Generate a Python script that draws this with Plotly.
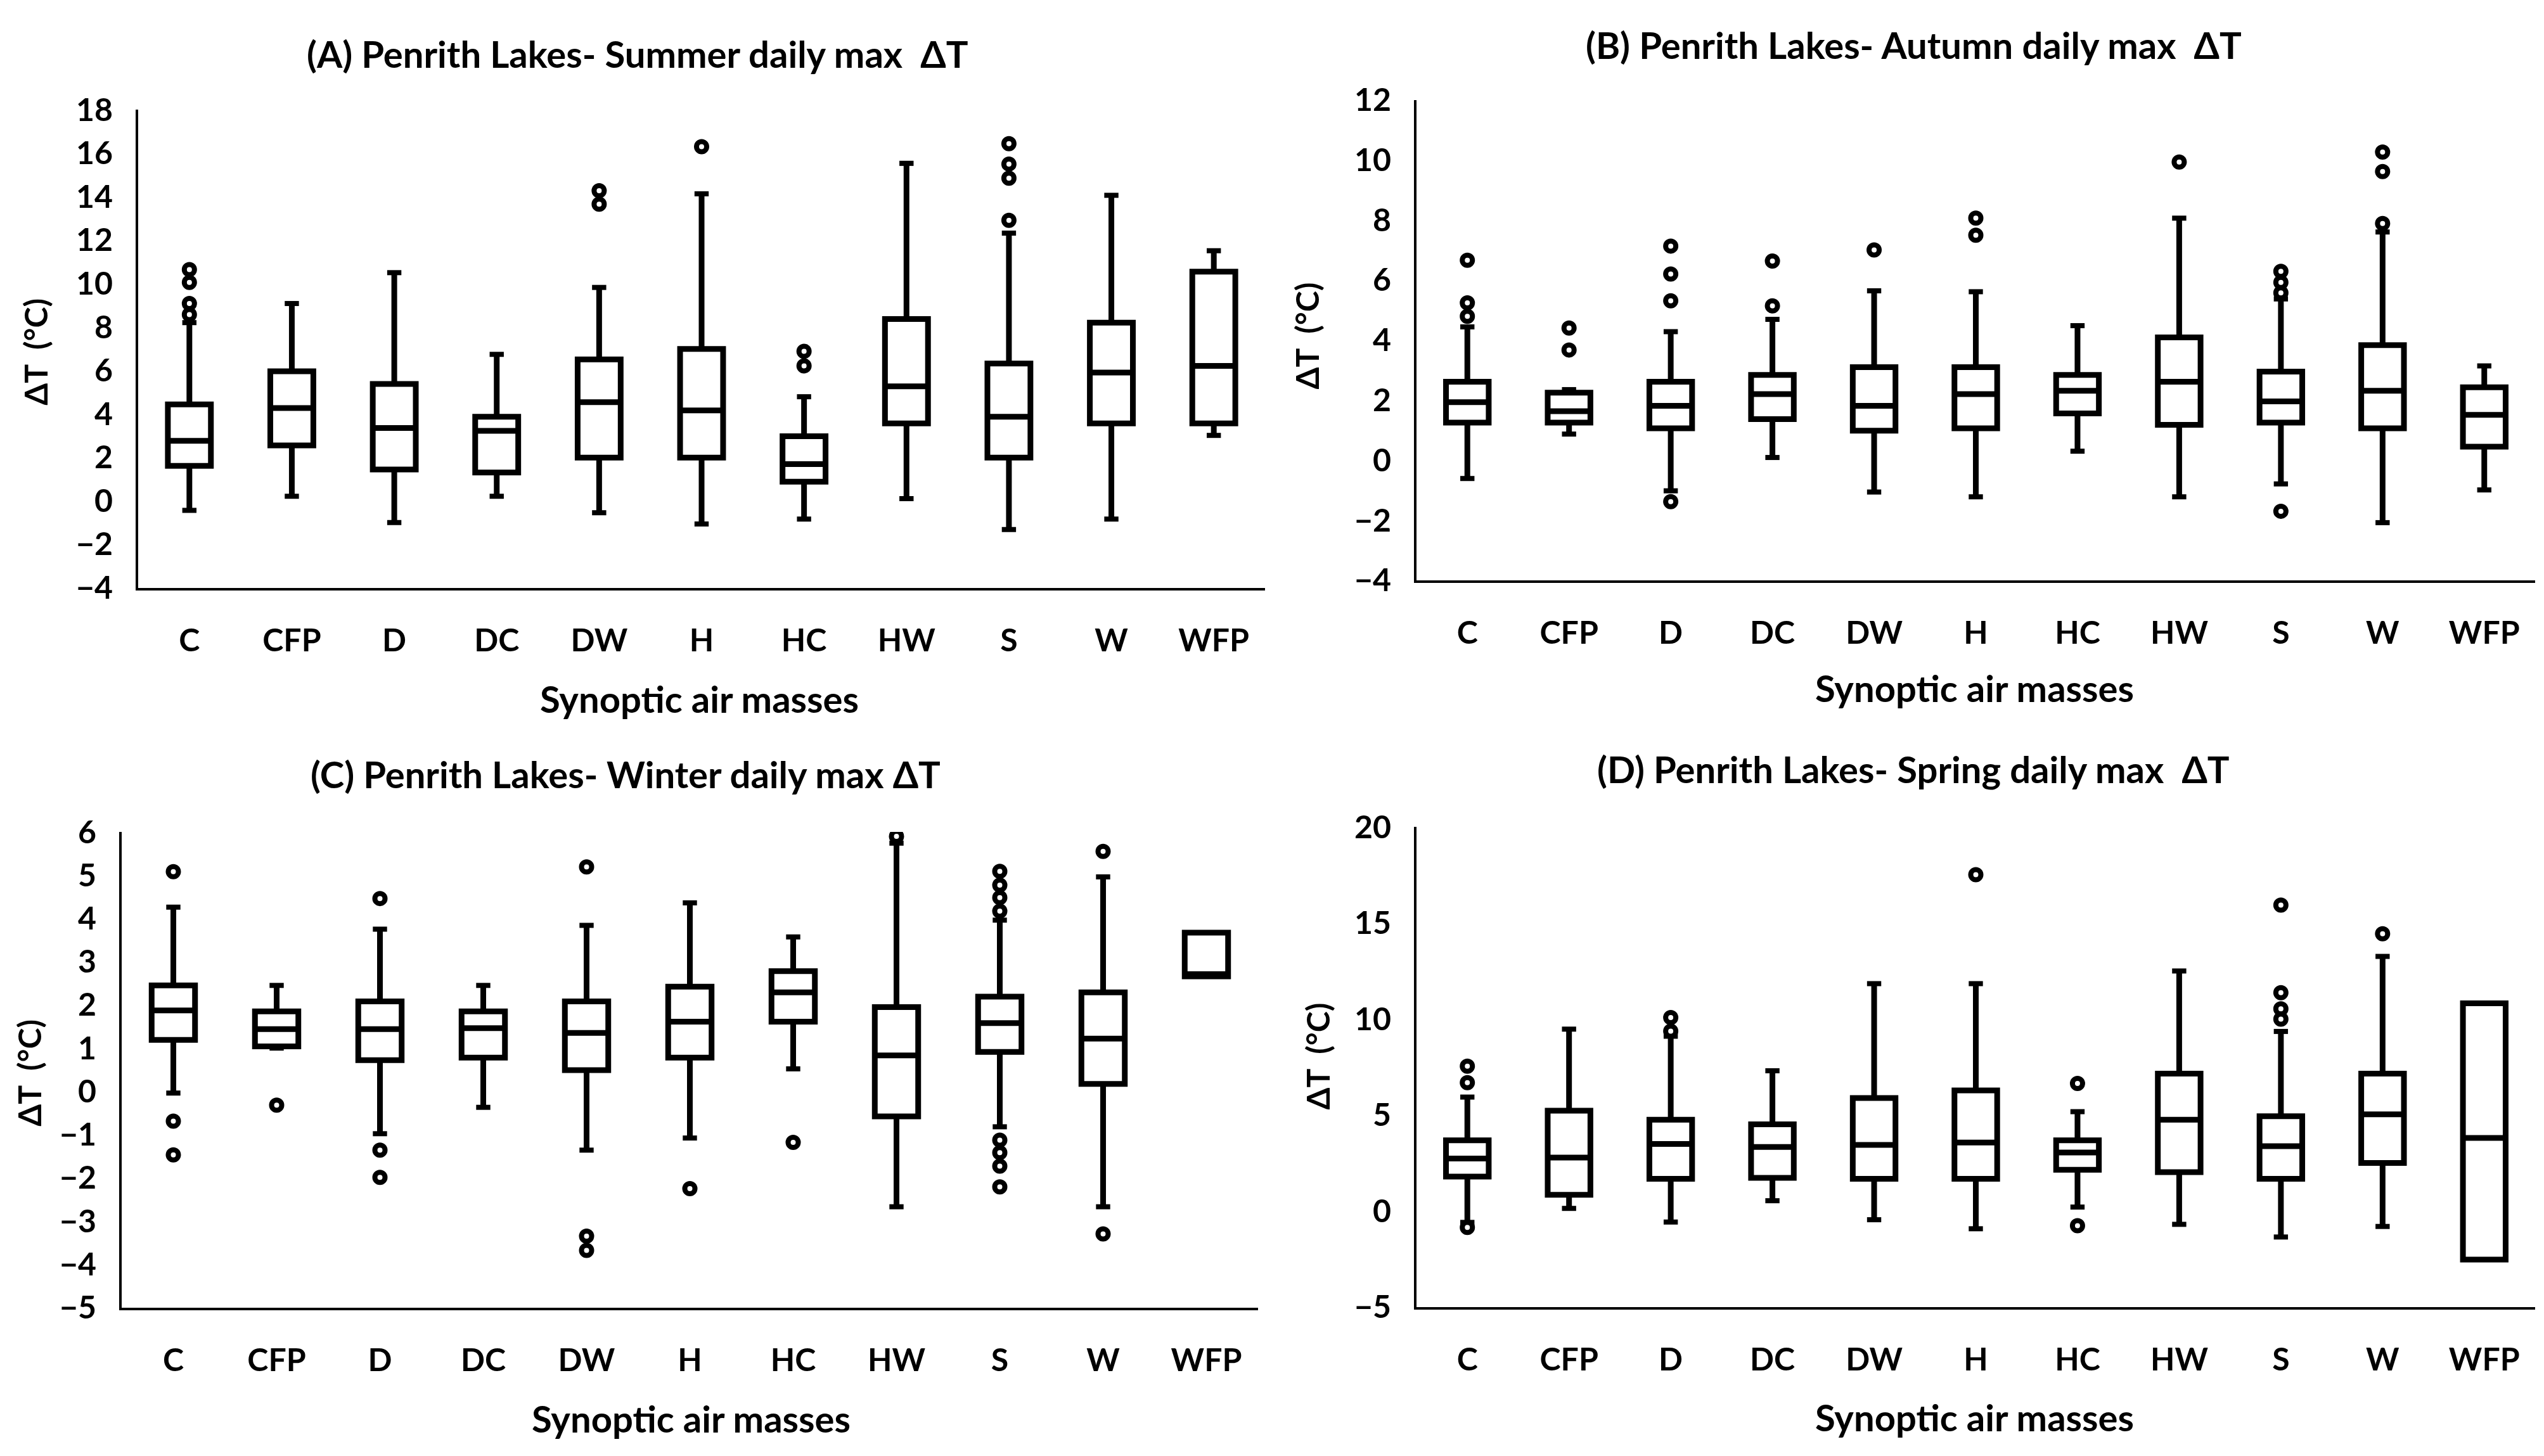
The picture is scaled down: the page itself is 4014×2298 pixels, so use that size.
import plotly.graph_objects as go

cats = ["C", "CFP", "D", "DC", "DW", "H", "HC", "HW", "S", "W", "WFP"]

# (A) Summer
a_lo  = [-0.44, 0.21, -1.00, 0.21, -0.55, -1.07, -0.84, 0.10, -1.32, -0.84, 3.01]
a_q1  = [1.61, 2.55, 1.44, 1.30, 1.99, 1.99, 0.88, 3.56, 1.99, 3.56, 3.56]
a_med = [2.76, 4.27, 3.35, 3.22, 4.54, 4.16, 1.69, 5.27, 3.87, 5.90, 6.21]
a_q3  = [4.44, 5.96, 5.38, 3.87, 6.51, 6.99, 2.97, 8.37, 6.32, 8.20, 10.55]
a_hi  = [8.20, 9.08, 10.50, 6.74, 9.82, 14.13, 4.79, 15.53, 12.32, 14.06, 11.51]
a_out_cat = ["C", "C", "C", "C", "DW", "DW", "H", "HC", "HC", "S", "S", "S", "S"]
a_out_val = [10.64, 10.05, 9.08, 8.57, 14.27, 13.65, 16.30, 6.88, 6.21, 16.44, 15.50, 14.85, 12.91]

# (B) Autumn
b_lo  = [-0.61, 0.87, -1.02, 0.09, -1.06, -1.22, 0.30, -1.22, -0.79, -2.08, -0.99]
b_q1  = [1.25, 1.25, 1.06, 1.37, 0.98, 1.06, 1.56, 1.18, 1.25, 1.06, 0.45]
b_med = [1.93, 1.63, 1.81, 2.20, 1.81, 2.20, 2.31, 2.61, 1.96, 2.31, 1.51]
b_q3  = [2.61, 2.25, 2.61, 2.84, 3.10, 3.10, 2.84, 4.09, 2.95, 3.83, 2.43]
b_hi  = [4.44, 2.35, 4.28, 4.69, 5.64, 5.61, 4.48, 8.06, 5.37, 7.60, 3.14]
b_out_cat = ["C", "C", "C", "CFP", "CFP", "D", "D", "D", "D", "DC", "DC", "DW",
             "H", "H", "HW", "S", "S", "S", "S", "W", "W", "W"]
b_out_val = [6.66, 5.24, 4.79, 4.40, 3.67, 7.13, 6.20, 5.31, -1.38, 6.63, 5.14, 7.00,
             8.06, 7.49, 9.93, 6.29, 5.92, 5.57, -1.70, 10.26, 9.61, 7.88]

# (C) Winter
c_lo  = [-0.04, 1.00, -0.98, -0.37, -1.36, -1.08, 0.52, -2.67, -0.82, -2.67, 2.66]
c_q1  = [1.19, 1.04, 0.72, 0.78, 0.49, 0.78, 1.61, -0.58, 0.91, 0.17, 2.66]
c_med = [1.87, 1.44, 1.44, 1.46, 1.35, 1.61, 2.29, 0.83, 1.58, 1.22, 2.71]
c_q3  = [2.45, 1.85, 2.08, 1.85, 2.08, 2.42, 2.78, 1.95, 2.19, 2.29, 3.67]
c_hi  = [4.26, 2.45, 3.75, 2.45, 3.84, 4.36, 3.57, 5.74, 3.96, 4.96, 3.67]
c_out_cat = ["C", "C", "C", "CFP", "D", "D", "D", "DW", "DW", "DW", "H", "HC", "HW",
             "S", "S", "S", "S", "S", "S", "S", "S", "W", "W"]
c_out_val = [5.08, -0.69, -1.47, -0.32, 4.46, -1.36, -1.99, 5.19, -3.35, -3.68, -2.25, -1.18, 5.90,
             5.09, 4.77, 4.48, 4.17, -1.13, -1.42, -1.73, -2.21, 5.55, -3.30]

# (D) Spring
d_lo  = [-0.60, 0.13, -0.58, 0.53, -0.46, -0.93, 0.20, -0.70, -1.36, -0.81, -2.54]
d_q1  = [1.79, 0.84, 1.67, 1.72, 1.67, 1.67, 2.14, 2.02, 1.67, 2.50, -2.54]
d_med = [2.73, 2.78, 3.49, 3.33, 3.44, 3.56, 3.04, 4.75, 3.37, 5.03, 3.80]
d_q3  = [3.68, 5.22, 4.75, 4.51, 5.88, 6.28, 3.68, 7.15, 4.93, 7.15, 10.82]
d_hi  = [5.93, 9.47, 9.10, 7.30, 11.84, 11.84, 5.17, 12.50, 9.35, 13.26, 10.82]
d_out_cat = ["C", "C", "C", "D", "D", "H", "HC", "HC", "S", "S", "S", "S", "W"]
d_out_val = [7.54, 6.68, -0.86, 10.07, 9.36, 17.52, 6.64, -0.77, 15.93, 11.37, 10.53, 9.99, 14.44]

titles = ["(A) Penrith Lakes- Summer daily max \u00a0\u0394T",
          "(B) Penrith Lakes- Autumn daily max \u00a0\u0394T",
          "(C) Penrith Lakes- Winter daily max \u0394T",
          "(D) Penrith Lakes- Spring daily max \u00a0\u0394T"]
y_ranges = [[-4, 18], [-4, 12], [-5, 6], [-5, 20]]
y_dticks = [2, 2, 1, 5]
x_title = "Synoptic air masses"
y_title = "\u0394T \u00a0(\u00b0C)"

W, H = 4014, 2298
FONT = "Lato"

# panel geometry in pixels: (left, right, top, bottom)
geom = [(218, 1996, 145, 920), (2235, 4000, 129, 908),
        (192, 1985, 1316, 2087), (2235, 4000, 1308, 2086)]
title_pos = [(1006, 54), (3019, 40), (987, 1222), (3019, 1214)]
xt_pos = [(1103, 1100), (3115, 1082), (1090, 2267), (3115, 2265)]
yt_pos = [(56, 538), (2062, 512), (46, 1707), (2079, 1680)]

panels = [
    (a_lo, a_q1, a_med, a_q3, a_hi, a_out_cat, a_out_val),
    (b_lo, b_q1, b_med, b_q3, b_hi, b_out_cat, b_out_val),
    (c_lo, c_q1, c_med, c_q3, c_hi, c_out_cat, c_out_val),
    (d_lo, d_q1, d_med, d_q3, d_hi, d_out_cat, d_out_val),
]

fig = go.Figure()
layout = dict(width=W, height=H, margin=dict(l=0, r=0, t=0, b=0),
              paper_bgcolor="white", plot_bgcolor="white", showlegend=False)
annotations = []

for i, (lo, q1, med, q3, hi, ocat, oval) in enumerate(panels):
    n = "" if i == 0 else str(i + 1)
    xa, ya = "x" + n, "y" + n
    fig.add_trace(go.Box(
        x=cats, q1=q1, median=med, q3=q3, lowerfence=lo, upperfence=hi,
        xaxis=xa, yaxis=ya, width=0.42, whiskerwidth=0,
        fillcolor="white", line=dict(color="black", width=9),
        boxpoints=False, hoverinfo="skip"))
    # whisker end caps
    cap_x, cap_y = [], []
    for c, l, a, b, h in zip(cats, lo, q1, q3, hi):
        if h > b:
            cap_x.append(c); cap_y.append(h)
        if l < a:
            cap_x.append(c); cap_y.append(l)
    fig.add_trace(go.Scatter(
        x=cap_x, y=cap_y, mode="markers", xaxis=xa, yaxis=ya, hoverinfo="skip",
        marker=dict(symbol="line-ew-open", size=16, color="black",
                    line=dict(color="black", width=8))))
    # outliers
    fig.add_trace(go.Scatter(
        x=ocat, y=oval, mode="markers", xaxis=xa, yaxis=ya, hoverinfo="skip",
        marker=dict(symbol="circle", size=16, color="white",
                    line=dict(color="black", width=8))))

    l, r, t, b = geom[i]
    layout["xaxis" + n] = dict(
        domain=[l / W, r / W], anchor=ya, type="category",
        categoryorder="array", categoryarray=cats, range=[-0.5, 10.5],
        showline=True, linecolor="black", linewidth=4, showgrid=False,
        zeroline=False, ticks="", ticklabelstandoff=36,
        tickfont=dict(family=FONT, size=50, color="black", weight="bold"))
    layout["yaxis" + n] = dict(
        domain=[1 - b / H, 1 - t / H], anchor=xa, range=y_ranges[i],
        dtick=y_dticks[i], tick0=0, showline=True, linecolor="black",
        linewidth=4, showgrid=False, zeroline=False, ticks="",
        ticklabelstandoff=26,
        tickfont=dict(family=FONT, size=50, color="black", weight="bold"))

    tx, ty = title_pos[i]
    annotations.append(dict(text=titles[i], x=tx / W, y=1 - ty / H, xref="paper",
                            yref="paper", showarrow=False, xanchor="center",
                            yanchor="middle",
                            font=dict(family=FONT, size=58, color="black", weight="bold")))
    xx, xy = xt_pos[i]
    annotations.append(dict(text=x_title, x=xx / W, y=1 - xy / H, xref="paper",
                            yref="paper", showarrow=False, xanchor="center",
                            yanchor="middle",
                            font=dict(family=FONT, size=58, color="black", weight="bold")))
    yx, yy = yt_pos[i]
    annotations.append(dict(text=y_title, x=yx / W, y=1 - yy / H, xref="paper",
                            yref="paper", showarrow=False, xanchor="center",
                            yanchor="middle", textangle=-90,
                            font=dict(family=FONT, size=50, color="black", weight="bold")))

layout["annotations"] = annotations
fig.update_layout(**layout)
fig.write_html("out.html",
               config={"displayModeBar": False},
               post_script="document.body.style.margin='0';"
                           "document.body.style.overflow='hidden';"
                           "document.documentElement.style.overflow='hidden';")
